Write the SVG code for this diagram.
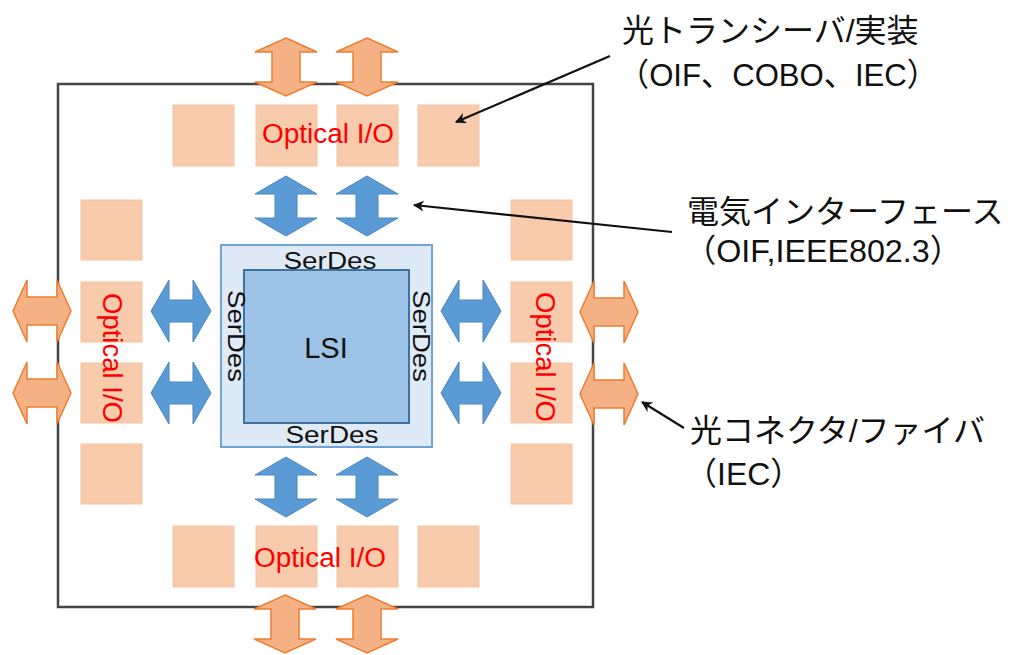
<svg xmlns="http://www.w3.org/2000/svg" width="1018" height="655" viewBox="0 0 1018 655">
  <defs>
    <style>
      .sq { fill: #F8CBAD; stroke: #F6C3A2; stroke-width: 1; }
      .oarr { fill: #F4B183; stroke: #ED7D31; stroke-width: 1.5; stroke-linejoin: miter; }
      .barr { fill: #5B9BD5; stroke: #4A86BE; stroke-width: 1; }
      .opt { font-family: "Liberation Sans", Arial, sans-serif; font-size: 27px; fill: #FF0000; }
      .sd { font-family: "Liberation Sans", Arial, sans-serif; font-size: 23px; fill: #111; }
      .lbl { font-family: "Liberation Sans", "Noto Sans CJK JP", sans-serif; font-size: 32px; fill: #111; }
      .call { stroke: #111; stroke-width: 2.2; fill: none; marker-end: url(#ah); }
    </style>
    <marker id="ah" viewBox="0 0 10 10" refX="9" refY="5" markerWidth="5" markerHeight="5" orient="auto">
      <path d="M0,0 L10,5 L0,10 L3,5 Z" fill="#111"/>
    </marker>
    <path id="ov" d="M0,-29 L31,-15 L14,-15 L14,15 L31,15 L0,29 L-31,15 L-14,15 L-14,-15 L-31,-15 Z"/>
    <path id="bv" d="M0,-30 L31,-12 L11,-12 L11,12 L31,12 L0,30 L-31,12 L-11,12 L-11,-12 L-31,-12 Z"/>
  </defs>
  <rect width="1018" height="655" fill="#fff"/>

  <g id="frame">
    <rect x="58" y="84" width="535" height="523" fill="none" stroke="#444" stroke-width="2.5"/>
  </g>

  <g id="optical-squares">
    <rect class="sq" x="173" y="105" width="61" height="61"/>
    <rect class="sq" x="256" y="105" width="61" height="61"/>
    <rect class="sq" x="337" y="105" width="61" height="61"/>
    <rect class="sq" x="418" y="105" width="61" height="61"/>
    <rect class="sq" x="173" y="526" width="61" height="61"/>
    <rect class="sq" x="256" y="526" width="61" height="61"/>
    <rect class="sq" x="337" y="526" width="61" height="61"/>
    <rect class="sq" x="418" y="526" width="61" height="61"/>
    <rect class="sq" x="81" y="200" width="61" height="60"/>
    <rect class="sq" x="81" y="282" width="61" height="60"/>
    <rect class="sq" x="81" y="363" width="61" height="60"/>
    <rect class="sq" x="81" y="444" width="61" height="60"/>
    <rect class="sq" x="511" y="200" width="61" height="60"/>
    <rect class="sq" x="511" y="282" width="61" height="60"/>
    <rect class="sq" x="511" y="363" width="61" height="60"/>
    <rect class="sq" x="511" y="444" width="61" height="60"/>
  </g>

  <g id="optical-labels">
    <text class="opt" x="328" y="143" text-anchor="middle" textLength="132" lengthAdjust="spacingAndGlyphs">Optical I/O</text>
    <text class="opt" x="320" y="567" text-anchor="middle" textLength="132" lengthAdjust="spacingAndGlyphs">Optical I/O</text>
    <text class="opt" text-anchor="middle" dy="9.5" transform="translate(112,358) rotate(90)" textLength="130" lengthAdjust="spacingAndGlyphs">Optical I/O</text>
    <text class="opt" text-anchor="middle" dy="9.5" transform="translate(545,357) rotate(90)" textLength="130" lengthAdjust="spacingAndGlyphs">Optical I/O</text>
  </g>

  <g id="lsi">
    <rect x="221" y="245" width="211" height="202" fill="#DEEBF7" stroke="#6FA3D6" stroke-width="2"/>
    <rect x="244" y="270" width="165" height="153" fill="#9DC3E6" stroke="#41719C" stroke-width="2"/>
    <text x="326" y="358" text-anchor="middle" font-family="'Liberation Sans', Arial, sans-serif" font-size="29" fill="#111">LSI</text>
    <text class="sd" x="330" y="269" text-anchor="middle" textLength="93" lengthAdjust="spacingAndGlyphs">SerDes</text>
    <text class="sd" x="332" y="443" text-anchor="middle" textLength="93" lengthAdjust="spacingAndGlyphs">SerDes</text>
    <text class="sd" text-anchor="middle" dy="8" transform="translate(236,336) rotate(90)" textLength="92" lengthAdjust="spacingAndGlyphs">SerDes</text>
    <text class="sd" text-anchor="middle" dy="8" transform="translate(421,336) rotate(90)" textLength="92" lengthAdjust="spacingAndGlyphs">SerDes</text>
  </g>

  <g id="optical-arrows">
    <use href="#ov" class="oarr" transform="translate(286,67)"/>
    <use href="#ov" class="oarr" transform="translate(367,67)"/>
    <use href="#ov" class="oarr" transform="translate(285,624)"/>
    <use href="#ov" class="oarr" transform="translate(367,624)"/>
    <use href="#ov" class="oarr" transform="translate(42,311) rotate(90)"/>
    <use href="#ov" class="oarr" transform="translate(42,393) rotate(90)"/>
    <use href="#ov" class="oarr" transform="translate(609,312) rotate(90)"/>
    <use href="#ov" class="oarr" transform="translate(609,394) rotate(90)"/>
  </g>

  <g id="electrical-arrows">
    <use href="#bv" class="barr" transform="translate(286,206)"/>
    <use href="#bv" class="barr" transform="translate(367,206)"/>
    <use href="#bv" class="barr" transform="translate(286,487)"/>
    <use href="#bv" class="barr" transform="translate(367,487)"/>
    <use href="#bv" class="barr" transform="translate(181,311) rotate(90)"/>
    <use href="#bv" class="barr" transform="translate(181,393) rotate(90)"/>
    <use href="#bv" class="barr" transform="translate(471,311) rotate(90)"/>
    <use href="#bv" class="barr" transform="translate(471,393) rotate(90)"/>
  </g>

  <g id="connectors">
    <line class="call" x1="610" y1="56" x2="456" y2="122"/>
    <line class="call" x1="672" y1="232" x2="414" y2="205"/>
    <line class="call" x1="684" y1="428" x2="642" y2="402"/>
  </g>

  <g id="callout-transceiver">
    <text class="lbl" x="622" y="42" font-size="33">光トランシーバ/実装</text>
    <text class="lbl" x="618" y="86" font-size="33" textLength="320" lengthAdjust="spacingAndGlyphs">（OIF、COBO、IEC）</text>
  </g>
  <g id="callout-electrical">
    <text class="lbl" x="687" y="223">電気インターフェース</text>
    <text class="lbl" x="684" y="262" textLength="278" lengthAdjust="spacingAndGlyphs">（OIF,IEEE802.3）</text>
  </g>
  <g id="callout-connector">
    <text class="lbl" x="690" y="442">光コネクタ/ファイバ</text>
    <text class="lbl" x="685" y="485">（IEC）</text>
  </g>
</svg>
